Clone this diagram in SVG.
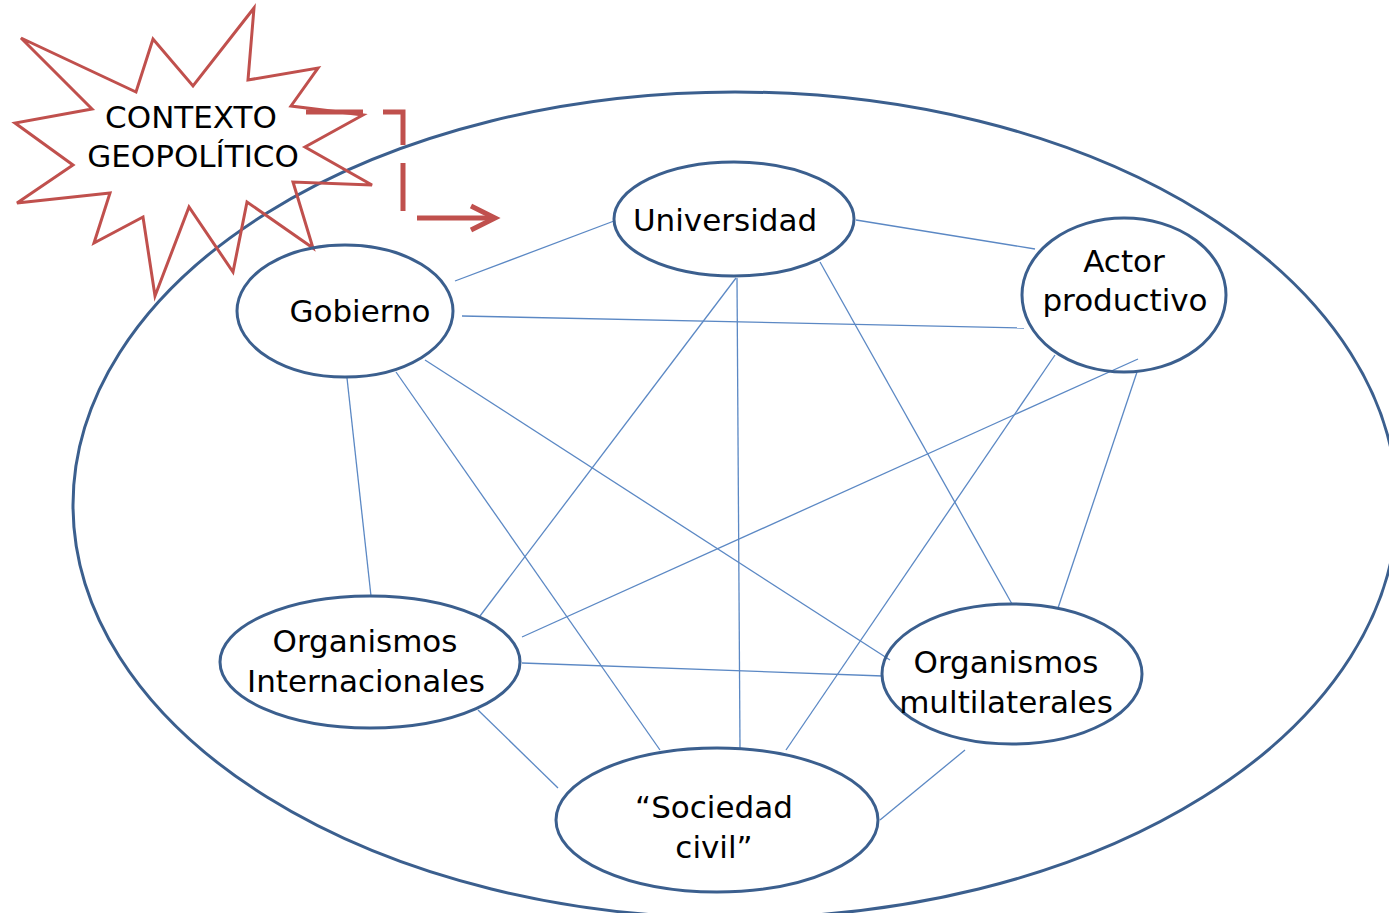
<svg xmlns="http://www.w3.org/2000/svg" width="1389" height="913" viewBox="0 0 1389 913">
<style>
.node{fill:none;stroke:#3b5f8e;stroke-width:3}
.outer{fill:none;stroke:#3b5f8e;stroke-width:3}
.conn line{stroke:#5b88c4;stroke-width:1.3}
text{font-family:"DejaVu Sans","Liberation Sans",sans-serif;font-size:31px;fill:#000;text-anchor:middle}
.burst{fill:none;stroke:#c0504d;stroke-width:3;stroke-linejoin:miter}
.red{fill:none;stroke:#c0504d;stroke-width:5}
</style>
<rect width="1389" height="913" fill="#fff"/>
<ellipse class="outer" cx="735" cy="505" rx="662" ry="413"/>
<g id="connectors" class="conn">
<line x1="455" y1="281" x2="614" y2="221"/>
<line x1="856" y1="220" x2="1035" y2="249"/>
<line x1="462" y1="316" x2="1024" y2="328"/>
<line x1="347" y1="378" x2="371" y2="596"/>
<line x1="396" y1="372" x2="660" y2="750"/>
<line x1="425" y1="360" x2="890" y2="660"/>
<line x1="736" y1="278" x2="480" y2="616"/>
<line x1="737" y1="278" x2="740" y2="748"/>
<line x1="820" y1="262" x2="1012" y2="604"/>
<line x1="1138" y1="359" x2="522" y2="637"/>
<line x1="1055" y1="355" x2="786" y2="750"/>
<line x1="1137" y1="372" x2="1058" y2="608"/>
<line x1="522" y1="663" x2="883" y2="676"/>
<line x1="478" y1="710" x2="558" y2="788"/>
<line x1="965" y1="750" x2="880" y2="820"/>
</g>
<g id="contexto">
<polygon class="burst" points="21,38 136,92 153,39 193,86 254,8 248,80 318,68 291,106 363,115 305,147 372,185 293,182 313,248 247,202 233,272 189,207 155,296 143,217 94,243 110,193 17,203 73,165 15,123 92,109"/>
<text x="191" y="128">CONTEXTO</text>
<text x="193" y="167">GEOPOLÍTICO</text>
</g>
<g id="arrow">
<path class="red" d="M306,112 H403 V218 H494" stroke-dasharray="57 20 53 18 48 21 90"/>
<path class="red" d="M471,206 L495,218 L471,230"/>
</g>
<g id="universidad">
<ellipse class="node" cx="734" cy="219" rx="120" ry="57"/>
<text x="725" y="231">Universidad</text>
</g>
<g id="actor">
<ellipse class="node" cx="1124" cy="295" rx="102" ry="77"/>
<text x="1124" y="272">Actor</text>
<text x="1125" y="311">productivo</text>
</g>
<g id="gobierno">
<ellipse class="node" cx="345" cy="311" rx="108" ry="66"/>
<text x="360" y="322">Gobierno</text>
</g>
<g id="orgint">
<ellipse class="node" cx="370" cy="662" rx="150" ry="66"/>
<text x="365" y="652">Organismos</text>
<text x="366" y="692">Internacionales</text>
</g>
<g id="orgmult">
<ellipse class="node" cx="1012" cy="674" rx="130" ry="70"/>
<text x="1006" y="673">Organismos</text>
<text x="1006" y="713">multilaterales</text>
</g>
<g id="sociedad">
<ellipse class="node" cx="717" cy="820" rx="161" ry="72"/>
<text x="714" y="818">“Sociedad</text>
<text x="714" y="858">civil”</text>
</g>
</svg>
